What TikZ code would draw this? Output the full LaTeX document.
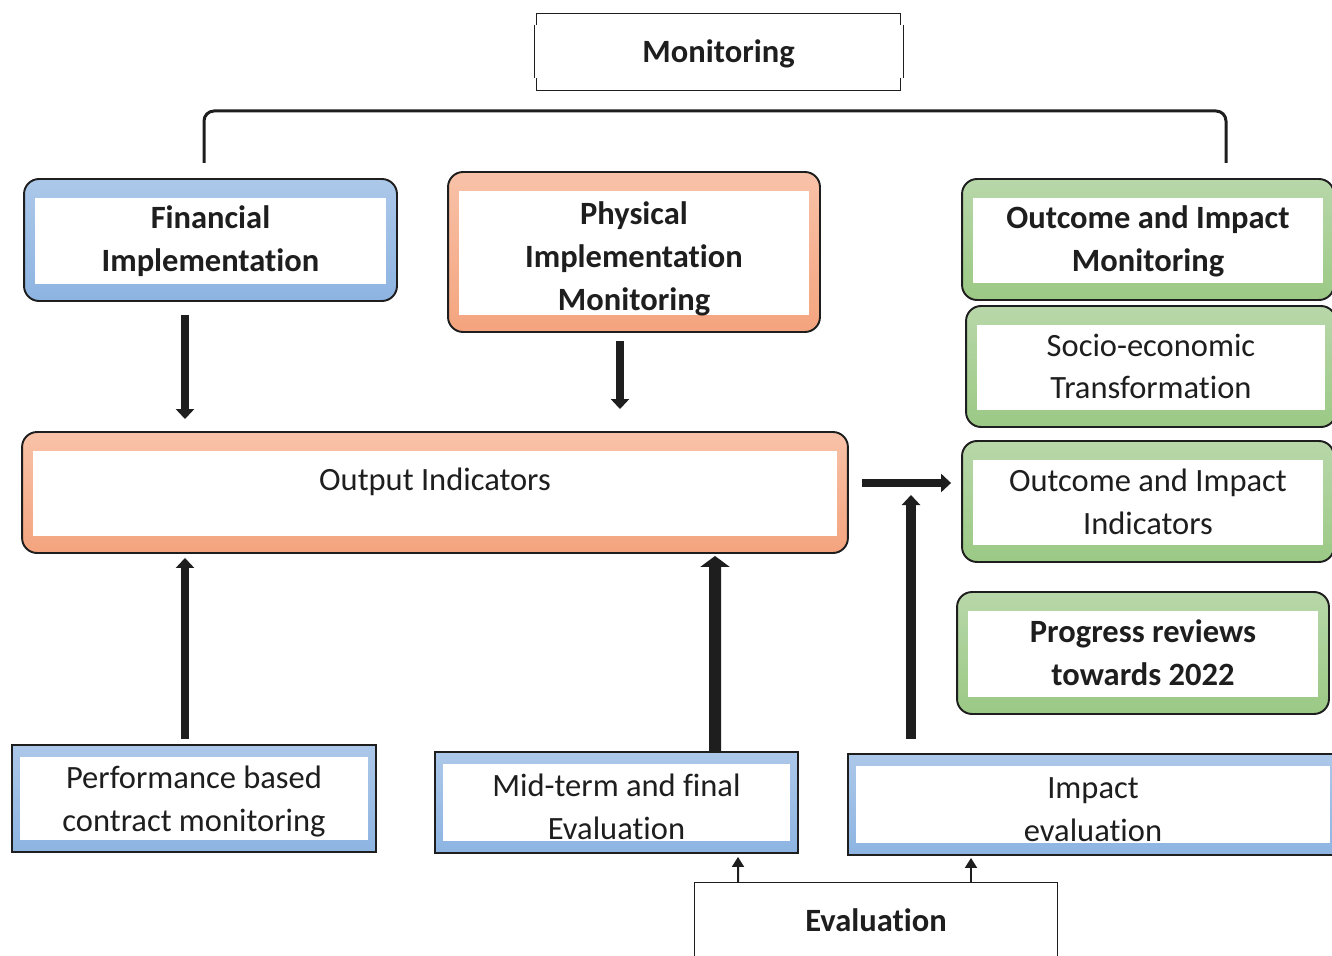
\documentclass[tikz,border=0pt]{standalone}
\usepackage{fontspec}
\setmainfont{Carlito}[Ligatures=NoCommon]
\usetikzlibrary{arrows.meta,calc}

\definecolor{bluetop}{RGB}{172,200,233}
\definecolor{bluebot}{RGB}{141,180,226}
\definecolor{salmtop}{RGB}{248,194,168}
\definecolor{salmbot}{RGB}{244,164,126}
\definecolor{grntop}{RGB}{184,215,169}
\definecolor{grnbot}{RGB}{155,201,133}
\definecolor{ink}{RGB}{30,30,30}

\tikzset{
  txt/.style={font=\fontsize{18.5}{24.4}\selectfont, text=ink, align=center, inner sep=0pt},
  rbox/.style 2 args={txt, draw=ink, line width=1.1pt, rounded corners=0.3cm,
    top color=#1, bottom color=#2,
    path picture={\fill[white, sharp corners] ([shift={(0.22cm,-0.38cm)}]path picture bounding box.north west)
      rectangle ([shift={(-0.22cm,0.34cm)}]path picture bounding box.south east);}},
  sbox/.style 2 args={txt, draw=ink, line width=1.1pt,
    top color=#1, bottom color=#2,
    path picture={\fill[white] ([shift={(0.16cm,-0.24cm)}]path picture bounding box.north west)
      rectangle ([shift={(-0.16cm,0.24cm)}]path picture bounding box.south east);}},
  rim/.style={draw=ink, line width=0.85pt},
  brace/.style={draw=ink, line width=0.06cm, rounded corners=0.2cm},
  bigarr/.style={draw=ink, line width=0.16cm, -{Triangle[width=0.36cm,length=0.2cm]}},
  smallarr/.style={draw=ink, line width=0.04cm, -{Triangle[width=0.24cm,length=0.2cm]}},
}

\begin{document}
\begin{tikzpicture}[x=0.02cm, y=-0.02cm]
\useasboundingbox (0,0) rectangle (1332,956);

% monitoring and its bracket
\node[txt, minimum width=7.26cm, minimum height=1.52cm, text depth=0.02cm] (mon) at (718.5,52) {\bfseries Monitoring};
\draw[rim] ($(mon.north west)+(0,11)$) -- (mon.north west) -- (mon.north east) -- ($(mon.north east)+(0,11)$);
\draw[rim] ($(mon.south west)+(0,-12)$) -- (mon.south west) -- (mon.south east) -- ($(mon.south east)+(0,-12)$);
\draw[rim] ($(mon.north west)+(-2,11)$) -- ($(mon.south west)+(-2,-12)$);
\draw[rim] ($(mon.north east)+(3,11)$) -- ($(mon.south east)+(3,-12)$);
\coordinate (bl) at (204,163);
\coordinate (br) at (1226,163);
\coordinate (bt) at (715,111);
\draw[brace] (bl) -- (bl |- bt) -- (br |- bt) -- (br);

% upper row
\node[rbox={bluetop}{bluebot}, minimum width=7.46cm, minimum height=2.44cm, text depth=0.05cm] (fin) at (210.5,240)
  {\bfseries Financial\\\bfseries Implementation};
\node[rbox={salmtop}{salmbot}, minimum width=7.44cm, minimum height=3.2cm, text height=2.33cm, text depth=0cm] (phys) at (634,252)
  {\bfseries Physical\\\bfseries Implementation\\\bfseries Monitoring};

% green column
\node[rbox={grntop}{grnbot}, minimum width=7.44cm, minimum height=2.42cm, text depth=0.02cm] (oim) at (1148,239.5)
  {\bfseries Outcome and Impact\\\bfseries Monitoring};
\node[rbox={grntop}{grnbot}, minimum width=7.4cm, minimum height=2.42cm] (soc) at (1151,366.5)
  {Socio-economic\\Transformation};
\node[rbox={grntop}{grnbot}, minimum width=7.44cm, minimum height=2.42cm] (ind) at (1148,501.5)
  {Outcome and Impact\\Indicators};
\node[rbox={grntop}{grnbot}, minimum width=7.44cm, minimum height=2.44cm] (prog) at (1143,653)
  {\bfseries Progress reviews\\\bfseries towards 2022};

% output
\node[rbox={salmtop}{salmbot}, minimum width=16.52cm, minimum height=2.42cm, text depth=0.55cm] (out) at (435,492.5)
  {Output Indicators};

% lower row
\node[sbox={bluetop}{bluebot}, minimum width=7.28cm, minimum height=2.14cm, text depth=0cm] (perf) at (194,798.5)
  {Performance based\\contract monitoring};
\node[sbox={bluetop}{bluebot}, minimum width=7.26cm, minimum height=2.02cm, text height=1.48cm, text depth=0cm] (mid) at (616.5,802.5)
  {Mid-term and final\\Evaluation};
\node[sbox={bluetop}{bluebot}, minimum width=9.8cm, minimum height=2.02cm, text height=1.48cm, text depth=0cm] (imp) at (1093,804.5)
  {Impact\\evaluation};

% evaluation, open at the bottom
\node[txt, minimum width=7.24cm, minimum height=1.48cm] (eval) at (876,920) {\bfseries Evaluation};
\draw[rim] (eval.south west) -- (eval.north west) -- (eval.north east) -- (eval.south east);

% arrows
\draw[bigarr] ($(fin.south)+(-25.5,13)$) -- ($(out.north)+(-250,-12)$);
\draw[bigarr] ($(phys.south)+(-14,8)$) -- ($(out.north)+(185,-22)$);
\draw[bigarr] ($(perf.north)+(-9,-5)$) -- ($(out.south)+(-250,4)$);
\draw[bigarr, line width=0.24cm, -{Triangle[width=0.58cm,length=0.22cm]}] ($(mid.north)+(98.5,0)$) -- ($(out.south)+(280,2)$);
\draw[bigarr] ($(out.east)+(13,-9.5)$) -- ($(ind.west)+(-10,-18.5)$);
\coordinate (meet) at (911,495);
\draw[bigarr, line width=0.2cm] ($(imp.north)+(-182,-14)$) -- (meet);
\draw[smallarr] ($(eval.north)+(-138,0)$) -- ($(mid.south)+(121.5,3)$);
\draw[smallarr] ($(eval.north)+(95,0)$) -- ($(imp.south)+(-122,2)$);
\end{tikzpicture}
\end{document}
